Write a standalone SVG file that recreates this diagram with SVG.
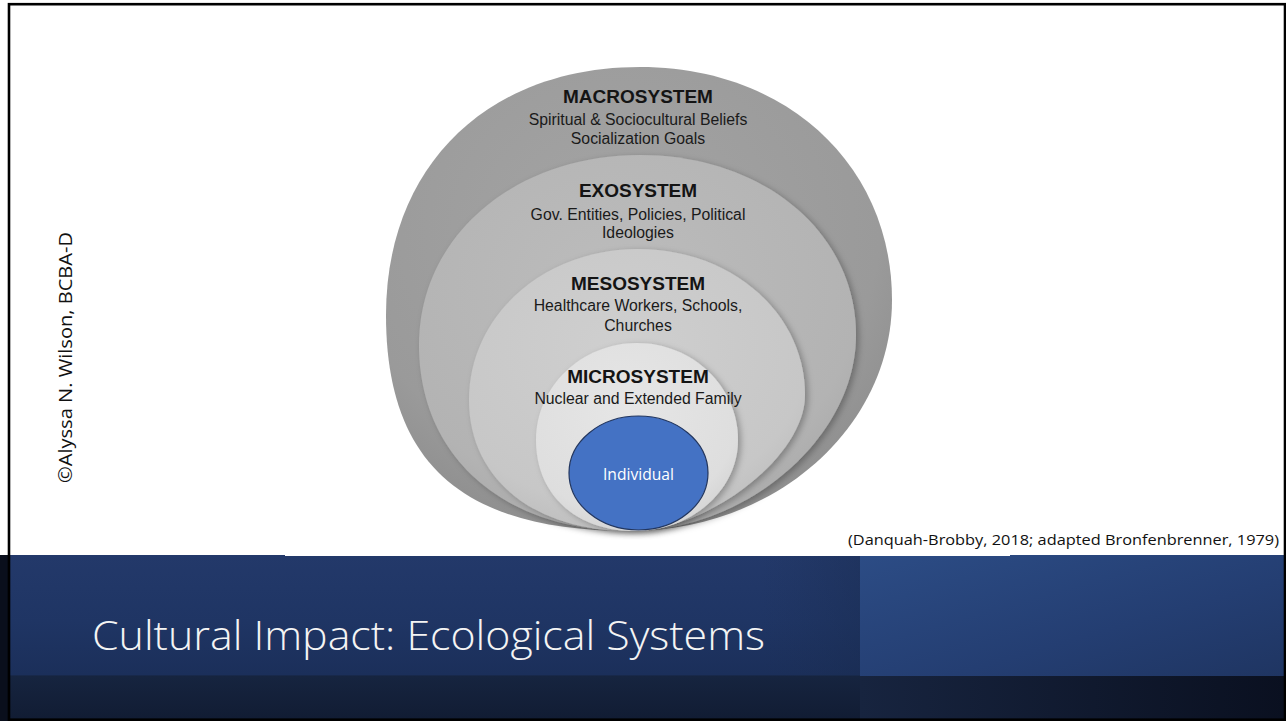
<svg xmlns="http://www.w3.org/2000/svg" width="1286" height="721" viewBox="0 0 1286 721">
  <style>
    .hd { font-family: "Liberation Sans", Arial, sans-serif; font-weight: bold; font-size: 19px; fill: #141414; text-anchor: middle; }
    .sub { font-family: "Liberation Sans", Arial, sans-serif; font-size: 15.8px; fill: #1a1a1a; text-anchor: middle; }
    .cal { font-family: "Open Sans", "Noto Sans", sans-serif; }
  </style>
  <defs>
    <radialGradient id="gMacro" cx="0.45" cy="0.35" r="0.7">
      <stop offset="0" stop-color="#a4a4a4"/>
      <stop offset="0.75" stop-color="#9a9a9a"/>
      <stop offset="1" stop-color="#8c8c8c"/>
    </radialGradient>
    <radialGradient id="gExo" cx="0.45" cy="0.35" r="0.7">
      <stop offset="0" stop-color="#bcbcbc"/>
      <stop offset="0.8" stop-color="#b3b3b3"/>
      <stop offset="1" stop-color="#a8a8a8"/>
    </radialGradient>
    <radialGradient id="gMeso" cx="0.45" cy="0.35" r="0.7">
      <stop offset="0" stop-color="#cfcfcf"/>
      <stop offset="0.8" stop-color="#c7c7c7"/>
      <stop offset="1" stop-color="#bcbcbc"/>
    </radialGradient>
    <radialGradient id="gMicro" cx="0.45" cy="0.35" r="0.7">
      <stop offset="0" stop-color="#e6e6e6"/>
      <stop offset="0.8" stop-color="#dedede"/>
      <stop offset="1" stop-color="#d2d2d2"/>
    </radialGradient>
    <filter id="shadow" x="-10%" y="-10%" width="125%" height="125%">
      <feDropShadow dx="3" dy="2" stdDeviation="3" flood-color="#000" flood-opacity="0.28"/>
    </filter>
    <linearGradient id="gBand" x1="0" y1="0" x2="0" y2="1">
      <stop offset="0" stop-color="#23396a"/>
      <stop offset="0.4" stop-color="#1f3564"/>
      <stop offset="0.72" stop-color="#1b2f5a"/>
      <stop offset="0.73" stop-color="#16243f"/>
      <stop offset="1" stop-color="#111c33"/>
    </linearGradient>
    <linearGradient id="gPanel" x1="0" y1="0" x2="1" y2="1">
      <stop offset="0" stop-color="#2c4c85"/>
      <stop offset="0.6" stop-color="#243e72"/>
      <stop offset="1" stop-color="#1f3562"/>
    </linearGradient>
    <linearGradient id="gPanelLow" x1="0" y1="0" x2="1" y2="0">
      <stop offset="0" stop-color="#17243f"/>
      <stop offset="1" stop-color="#0a1020"/>
    </linearGradient>
    <linearGradient id="gDarkStrip" x1="0" y1="0" x2="1" y2="0">
      <stop offset="0" stop-color="#1d2f55" stop-opacity="0"/>
      <stop offset="1" stop-color="#182a4c" stop-opacity="0.35"/>
    </linearGradient>
  </defs>

  <rect x="0" y="0" width="1286" height="721" fill="#ffffff"/>

  <!-- title band -->
  <g id="band">
    <rect x="0" y="555" width="1286" height="166" fill="url(#gBand)"/>
    <rect x="760" y="555" width="100" height="121" fill="url(#gDarkStrip)"/>
    <rect x="860" y="555" width="426" height="121" fill="url(#gPanel)"/>
    <rect x="860" y="676" width="426" height="45" fill="url(#gPanelLow)"/>
    <rect x="285" y="554" width="725" height="2" fill="#ffffff"/>
    <rect x="0" y="555" width="8" height="166" fill="#0a0f1c"/>
    <text class="cal" x="92" y="650" font-size="41" font-weight="300" fill="#f4f4f4" textLength="673" lengthAdjust="spacingAndGlyphs">Cultural Impact: Ecological Systems</text>
  </g>

  <!-- nested systems -->
  <g id="macrosystem">
    <path d="M640,67 C786.2,67 892,164.9 892,300 C892,427.6 774.7,531 630,531 C464,531 386,465 386,315 C386,166.2 487.6,67 640,67 Z" fill="url(#gMacro)"/>
    <text class="hd" x="638" y="103">MACROSYSTEM</text>
    <text class="sub" x="638" y="125">Spiritual &amp; Sociocultural Beliefs</text>
    <text class="sub" x="638" y="144">Socialization Goals</text>
  </g>
  <g id="exosystem">
    <path d="M640,155 C763,155 856,232.4 856,335 C856,436.9 747.5,531 630,531 C503.4,531 419,456.6 419,345 C419,236.7 514,155 640,155 Z" fill="url(#gExo)" filter="url(#shadow)"/>
    <text class="hd" x="638" y="197">EXOSYSTEM</text>
    <text class="sub" x="638" y="220">Gov. Entities, Policies, Political</text>
    <text class="sub" x="638" y="238">Ideologies</text>
  </g>
  <g id="mesosystem">
    <path d="M638,249 C731.5,249 805,313.2 805,395 C805,456.2 708.75,531 630,531 C533.4,531 469,478.6 469,400 C469,315.4 543.4,249 638,249 Z" fill="url(#gMeso)" filter="url(#shadow)"/>
    <text class="hd" x="638" y="290">MESOSYSTEM</text>
    <text class="sub" x="638" y="311">Healthcare Workers, Schools,</text>
    <text class="sub" x="638" y="331">Churches</text>
  </g>
  <g id="microsystem">
    <path d="M637,343 C692.5,343 738,386.6 738,440 C738,490 691.7,531 635,531 C575.6,531 536,494.6 536,440 C536,386.6 581.5,343 637,343 Z" fill="url(#gMicro)" filter="url(#shadow)"/>
    <text class="hd" x="638" y="383">MICROSYSTEM</text>
    <text class="sub" x="638" y="404">Nuclear and Extended Family</text>
  </g>
  <g id="individual">
    <ellipse cx="638.5" cy="473" rx="69.5" ry="57" fill="#4472c4" stroke="#22365f" stroke-width="1.2"/>
    <text class="cal" x="638.5" y="480" font-size="16" fill="#ffffff" text-anchor="middle" textLength="71" lengthAdjust="spacingAndGlyphs">Individual</text>
  </g>

  <g id="connectors"/>

  <!-- citation and credit -->
  <g id="citation">
    <text class="cal" x="848" y="545" font-size="14.5" fill="#111111" textLength="431" lengthAdjust="spacingAndGlyphs">(Danquah-Brobby, 2018; adapted Bronfenbrenner, 1979)</text>
  </g>
  <g id="credit">
    <text class="cal" transform="translate(72,483) rotate(-90)" x="0" y="0" font-size="18" fill="#111111" textLength="251" lengthAdjust="spacingAndGlyphs">©Alyssa N. Wilson, BCBA-D</text>
  </g>

  <!-- slide frame -->
  <rect x="9" y="4.2" width="1276" height="715.5" fill="none" stroke="#000000" stroke-width="2.6"/>
</svg>
